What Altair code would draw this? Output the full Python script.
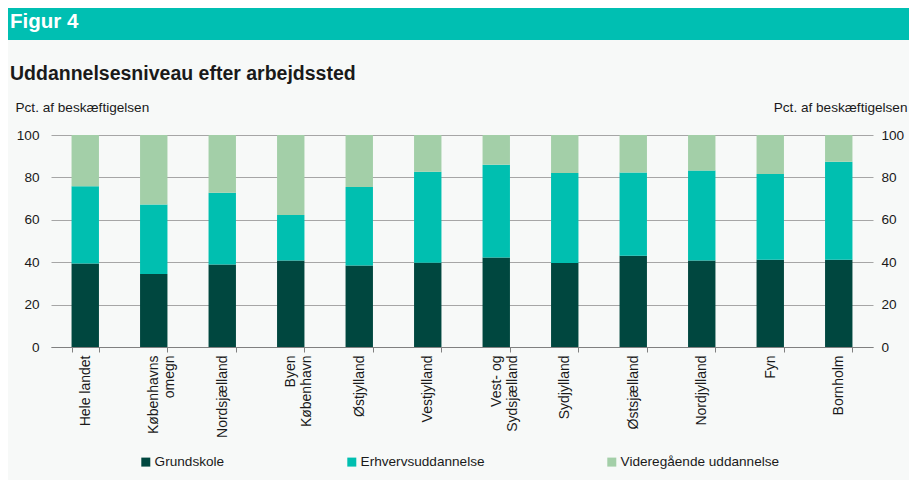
import altair as alt
import pandas as pd

NB = "\u00a0"
categories = ["Hele landet", "Københavns\nomegn" + NB * 4, "Nordsjælland",
              "Byen" + NB * 5 + "\nKøbenhavn",
              "Østjylland", "Vestjylland", "Vest- og" + NB * 3 + "\nSydsjælland", "Sydjylland",
              "Østsjælland", "Nordjylland", "Fyn", "Bornholm"]
series = ["Grundskole", "Erhvervsuddannelse", "Videregående uddannelse"]
grundskole = [39.4, 34.4, 38.9, 40.8, 38.4, 39.7, 42.2, 39.6, 43.0, 40.8, 41.1, 41.1]
erhverv = [36.4, 32.8, 33.9, 21.5, 37.1, 43.0, 43.8, 42.5, 39.3, 42.4, 40.5, 46.3]
videregaaende = [24.2, 32.8, 27.2, 37.7, 24.5, 17.3, 14.0, 17.9, 17.7, 16.8, 18.4, 12.6]
colors = ["#00473f", "#00bfb0", "#a3cfa8"]
y_ticks = [0, 20, 40, 60, 80, 100]
y_title = "Pct. af beskæftigelsen"
fig_label = "Figur 4"
chart_title = "Uddannelsesniveau efter arbejdssted"

rows = []
for s_i, (s, vals) in enumerate(zip(series, [grundskole, erhverv, videregaaende])):
    for c, v in zip(categories, vals):
        rows.append({"kategori": c, "serie": s, "vaerdi": v, "orden": s_i})
df = pd.DataFrame(rows)

FONT = "Liberation Sans, Arial, sans-serif"
FS = 13.6
W, H = 822, 212

xaxis = alt.Axis(title=None, labelAngle=-90, labelFontSize=14, labelFont=FONT,
                 labelColor="#1a1a1a", labelPadding=3, tickSize=5,
                 tickColor="#808080", domainColor="#808080",
                 tickBand="extent", labelLineHeight=16,
                 labelExpr="split(datum.label, '\\n')")
xenc = alt.X("kategori:N", sort=categories,
             scale=alt.Scale(paddingInner=0.6, paddingOuter=0.3), axis=xaxis)

yscale = alt.Scale(domain=[0, 100], nice=False)

bars = alt.Chart(df).mark_bar().encode(
    x=xenc,
    y=alt.Y("vaerdi:Q", stack="zero", scale=yscale,
            axis=alt.Axis(values=y_ticks, title=y_title, titleAngle=0, titleX=-36, titleY=-28,
                          titleAlign="left", titleBaseline="middle", titleFont=FONT,
                          titleFontSize=FS, titleFontWeight="normal", titleColor="#1a1a1a",
                          labelFont=FONT, labelFontSize=FS, labelColor="#1a1a1a",
                          labelPadding=12, ticks=False, domain=False,
                          gridColor="#a6a6a6", gridWidth=1)),
    color=alt.Color("serie:N", scale=alt.Scale(domain=series, range=colors),
                    legend=alt.Legend(title=None, orient="none", direction="horizontal",
                                      legendX=88, legendY=320, symbolType="square",
                                      symbolSize=81, symbolStrokeWidth=0,
                                      labelFont=FONT, labelFontSize=FS,
                                      labelColor="#1a1a1a", labelOffset=2,
                                      columnPadding=120, padding=0)),
    order=alt.Order("orden:Q"),
)

right = alt.Chart(df).mark_bar(opacity=0).encode(
    x=xenc,
    y=alt.Y("vaerdi:Q", stack="zero", scale=yscale,
            axis=alt.Axis(orient="right", values=y_ticks, title=y_title, titleAngle=0,
                          titleX=34, titleY=-28, titleAlign="right", titleBaseline="middle",
                          titleFont=FONT, titleFontSize=FS, titleFontWeight="normal",
                          titleColor="#1a1a1a", labelFont=FONT, labelFontSize=FS,
                          labelColor="#1a1a1a", labelPadding=8, ticks=False,
                          domain=False, grid=False)),
)

header = alt.Chart(pd.DataFrame({"t": [fig_label]})).mark_rect(color="#00bfb2").encode(
    x=alt.value(-43), x2=alt.value(858), y=alt.value(-127), y2=alt.value(-95))

header_text = alt.Chart(pd.DataFrame({"t": [fig_label]})).mark_text(
    align="left", baseline="alphabetic", font=FONT, fontSize=20.5, fontWeight="bold",
    color="white").encode(text="t:N", x=alt.value(-41), y=alt.value(-107))

title_text = alt.Chart(pd.DataFrame({"t": [chart_title]})).mark_text(
    align="left", baseline="alphabetic", font=FONT, fontSize=19.5, fontWeight="bold",
    color="#1a1a1a").encode(text="t:N", x=alt.value(-41), y=alt.value(-55))

chart = alt.layer(bars, right, header, header_text, title_text).resolve_axis(
    y="independent", x="shared").properties(
    width=W, height=H,
    autosize=alt.AutoSizeParams(type="none"),
    padding={"left": 43, "top": 127, "right": 36, "bottom": 133},
    background="#f7f9f8",
).configure_view(stroke=None)

chart.save("out.html", embed_options={"renderer": "svg", "actions": False})
